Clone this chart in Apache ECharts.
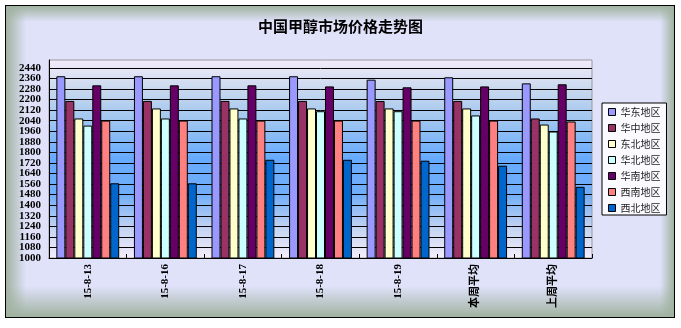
<!DOCTYPE html>
<html><head><meta charset="utf-8">
<script src="https://cdn.jsdelivr.net/npm/echarts@6/dist/echarts.min.js"></script>
<style>
html,body{margin:0;padding:0;background:#fff;}
#wrap{position:relative;width:681px;height:328px;}
#bg{position:absolute;left:5px;top:5px;width:668px;height:311px;border:1px solid #000;
background:
linear-gradient(to right, rgba(160,178,160,1) 0px, rgba(224,226,250,0) 20px, rgba(224,226,250,0) 654px, rgba(160,178,160,1) 668px),
linear-gradient(to bottom, rgba(160,178,160,1) 0px, rgba(224,226,250,0) 16px, rgba(224,226,250,0) 280px, rgba(160,178,160,1) 311px),
#e0e2fa;}
#chart{position:absolute;left:0;top:0;width:681px;height:328px;}
</style></head>
<body><div id="wrap"><div id="bg"></div><div id="chart"></div></div>
<script>
const title = '中国甲醇市场价格走势图';
const categories = ['15-8-13','15-8-16','15-8-17','15-8-18','15-8-19','本周平均','上周平均'];
const seriesNames = ['华东地区','华中地区','东北地区','华北地区','华南地区','西南地区','西北地区'];
const huadong  = [2377, 2377, 2377, 2377, 2351, 2369, 2323];
const huazhong = [2190, 2190, 2190, 2190, 2189, 2190, 2057];
const dongbei  = [2057, 2133, 2133, 2133, 2133, 2133, 2011];
const huabei   = [2003, 2057, 2057, 2112, 2112, 2080, 1958];
const huanan   = [2308, 2308, 2308, 2300, 2293, 2300, 2316];
const xinan    = [2041, 2041, 2041, 2041, 2041, 2041, 2034];
const xibei    = [1566, 1566, 1744, 1744, 1737, 1699, 1539];
const seriesData = [huadong, huazhong, dongbei, huabei, huanan, xinan, xibei];
const colors = ['#9999ff','#993366','#ffffcc','#ccffff','#660066','#ff8080','#0066cc'];
const yMin = 1000, yMax = 2500, yStep = 80;

const labelStyle = {fontSize:11,fontWeight:'bold',color:'#000',margin:8,fontFamily:'Liberation Serif'};
const chart = echarts.init(document.getElementById('chart'), null, {renderer:'canvas'});
chart.setOption({
  animation:false,
  backgroundColor:'transparent',
  title:{text:title,left:'center',top:14,textStyle:{fontSize:15,fontWeight:'bold',color:'#000',fontFamily:'Noto Sans CJK SC'}},
  legend:{orient:'vertical',left:602,top:103,itemWidth:7,itemHeight:7,itemGap:6,
    backgroundColor:'#fafaff',borderColor:'#000',borderWidth:1,padding:[4,6,2,6],
    icon:'rect',
    itemStyle:{borderColor:'#000',borderWidth:1},
    textStyle:{fontSize:10,lineHeight:10,color:'#222',fontFamily:'Noto Sans CJK SC'},
    data:seriesNames},
  grid:{left:49,right:89,top:60,bottom:70,show:true,borderColor:'#999',borderWidth:1,
    backgroundColor:{type:'linear',x:0,y:0,x2:0,y2:1,colorStops:[
      {offset:0,color:'#f4ecfa'},{offset:0.15,color:'#c8d8ee'},{offset:0.32,color:'#9cc4f0'},
      {offset:0.5,color:'#66aaff'},{offset:0.68,color:'#72aef8'},{offset:0.85,color:'#c4d4f2'},{offset:1,color:'#f6eefa'}]}},
  xAxis:{type:'category',data:categories,
    axisLine:{lineStyle:{color:'#000',width:1}},
    axisTick:{show:true,inside:true,length:4,lineStyle:{color:'#000'}},
    axisLabel:{rotate:90,interval:0,fontSize:11,fontWeight:'bold',color:'#000',margin:6,
      fontFamily:'Liberation Serif, Noto Sans CJK SC'}},
  yAxis:[
    {type:'value',min:yMin,max:yMax,interval:yStep,
      axisLine:{show:true,lineStyle:{color:'#000'}},
      axisTick:{show:false},
      axisLabel:Object.assign({showMaxLabel:false,showMinLabel:false,lineHeight:7,
        formatter:(v)=>String(v)},labelStyle),
      splitLine:{show:true,showMaxLine:false,lineStyle:{color:'#000',width:1}}},
    {type:'value',min:yMin,max:yMax,interval:yStep,position:'left',
      axisLine:{show:false},axisTick:{show:false},splitLine:{show:false},
      axisLabel:Object.assign({showMaxLabel:false,showMinLabel:true,lineHeight:7,
        formatter:(v)=>(v===yMin?String(v):'')},labelStyle)}
  ],
  series:seriesNames.map((n,i)=>({
    name:n,type:'bar',yAxisIndex:0,data:seriesData[i],barGap:'0%',barCategoryGap:'19%',
    itemStyle:{color:colors[i],borderColor:'#000',borderWidth:1}
  }))
});
</script></body></html>
